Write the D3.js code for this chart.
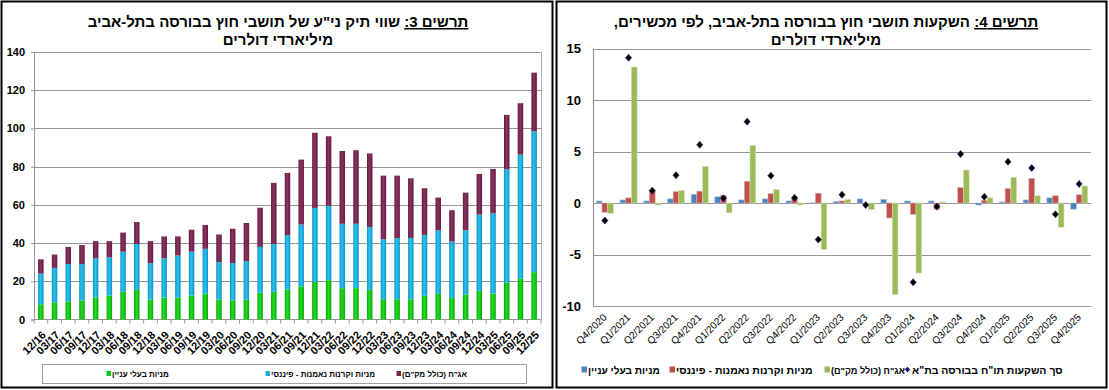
<!DOCTYPE html>
<html>
<head>
<meta charset="utf-8">
<script src="https://cdn.jsdelivr.net/npm/d3@7"></script>
<style>
    body { margin: 0; background: #fff; }
    svg { display: block; font-family: "Liberation Sans", Arial, "DejaVu Sans", sans-serif; }
    .rtl { direction: rtl; unicode-bidi: embed; }
</style>
</head>
<body>
<svg id="chart" width="1109" height="390"></svg>
<script>
// ---- figure 3: portfolio value (stacked), billions of dollars ----
const portfolioQuarters = ["12/16","03/17","06/17","09/17","12/17","03/18","06/18","09/18","12/18",
    "03/19","06/19","09/19","12/19","03/20","06/20","09/20","12/20","03/21","06/21","09/21","12/21",
    "03/22","06/22","09/22","12/22","03/23","06/23","09/23","12/23","03/24","06/24","09/24","12/24",
    "03/25","06/25","09/25","12/25"];
const portfolioInsider = [8, 9, 9.5, 10, 11.5, 12.5, 14.5, 15.5, 10.5, 11.5, 11.5, 12.5, 13.5, 10.5, 10, 10.5,
    14, 14.5, 15.7, 17.4, 19.7, 20.6, 16.4, 16.4, 15.5, 10.6, 10.6, 10.6, 12.4, 13.4, 11.3, 13.1, 15, 13.6,
    19.2, 21.5, 24.8];
const portfolioFinancial = [16, 18, 19.5, 19, 20.5, 20, 21, 24, 19, 20.5, 22, 23, 23.5, 19.5, 19.5, 20, 24,
    25, 28.4, 32.3, 38.7, 38.9, 33.7, 33.7, 32.8, 31.4, 32, 32.1, 31.9, 33.3, 29.5, 33.6, 39.9, 42, 59.5,
    64.8, 73.7];
const portfolioBonds = [7.5, 7, 9, 10, 9, 8.5, 10, 11.5, 11.5, 11.5, 10, 11.5, 12.5, 14.5, 18, 20, 20.5, 32,
    32.6, 34, 39.3, 36.4, 38.1, 38.5, 38.6, 33.3, 32.7, 31.2, 24.4, 17.1, 16.4, 19.7, 21.3, 23.2, 28.4,
    26.9, 30.7];
const portfolioTicks = [0, 20, 40, 60, 80, 100, 120, 140];
const portfolioLegend = ["מניות בעלי עניין", "מניות וקרנות נאמנות - פיננסי", "אג\"ח (כולל מק\"ם)"];

// ---- figure 4: investments by instrument, billions of dollars ----
const flowQuarters = ["Q4/2020","Q1/2021","Q2/2021","Q3/2021","Q4/2021","Q1/2022","Q2/2022","Q3/2022",
    "Q4/2022","Q1/2023","Q2/2023","Q3/2023","Q4/2023","Q1/2024","Q2/2024","Q3/2024","Q4/2024","Q1/2025",
    "Q2/2025","Q3/2025","Q4/2025"];
const flowInsider = [0.2, 0.3, 0.2, 0.4, 0.85, 0.6, 0.3, 0.4, 0.2, 0.02, 0.15, 0.4, 0.35, 0.2, 0.2, 0, -0.2,
    0.1, 0.3, 0.5, -0.6];
const flowFinancial = [-0.9, 0.5, 1.2, 1.1, 1.15, 0.75, 2.1, 0.9, 0.5, 0.95, 0.2, 0, -1.45, -1.1, -0.6, 1.5,
    0.25, 1.4, 2.4, 0.7, 0.8];
const flowBonds = [-1.0, 13.2, -0.2, 1.2, 3.55, -0.95, 5.6, 1.3, -0.2, -4.5, 0.35, -0.65, -8.9, -6.8, 0.1,
    3.2, 0.5, 2.5, 0.7, -2.35, 1.65];
const flowTotal = [-1.7, 14.1, 1.2, 2.7, 5.65, 0.45, 7.9, 2.65, 0.5, -3.55, 0.8, -0.2, -10.1, -7.7, -0.35,
    4.75, 0.6, 4.0, 3.4, -1.1, 1.85];
const flowTicks = [-10, -5, 0, 5, 10, 15];
const flowLegend = ["מניות בעלי עניין", "מניות וקרנות נאמנות - פיננסי", "אג\"ח (כולל מק\"ם)",
    "סך השקעות תו\"ח בבורסה בת\"א"];

const svg = d3.select('#chart');
const defs = svg.append('defs');
const gridColor = '#969696';

function addGradient(id, edge, mid) {
    const g = defs.append('linearGradient').attr('id', id)
        .attr('x1', 0).attr('x2', 1).attr('y1', 0).attr('y2', 0);
    g.append('stop').attr('offset', '0%').attr('stop-color', edge);
    g.append('stop').attr('offset', '45%').attr('stop-color', mid);
    g.append('stop').attr('offset', '100%').attr('stop-color', edge);
}
addGradient('gGreen', '#07a807', '#22dd22');
addGradient('gBlue', '#0c94c4', '#2cc2f0');
addGradient('gMaroon', '#5f1a3e', '#8c3360');

// panel frames
svg.append('rect').attr('x', 1.5).attr('y', 1.5).attr('width', 551).attr('height', 386)
    .attr('fill', 'none').attr('stroke', '#000').attr('stroke-width', 2);
svg.append('rect').attr('x', 556.5).attr('y', 1.5).attr('width', 550).attr('height', 386)
    .attr('fill', 'none').attr('stroke', '#000').attr('stroke-width', 2);

function drawTitle(cx, num, rest) {
    const t = svg.append('text').attr('class', 'rtl')
        .attr('x', cx).attr('y', 27).attr('text-anchor', 'middle')
        .attr('font-size', 15).attr('font-weight', 'bold').attr('fill', '#000');
    t.append('tspan').style('text-decoration', 'underline').text(`תרשים ${num}:`);
    t.append('tspan').text(' ' + rest);
    svg.append('text').attr('class', 'rtl')
        .attr('x', cx).attr('y', 45).attr('text-anchor', 'middle')
        .attr('font-size', 15).attr('font-weight', 'bold')
        .text('מיליארדי דולרים');
}

// shrink a legend label's font until it fits the room it has in the original
function fitText(sel, maxWidth, size) {
    const w = sel.node().getComputedTextLength();
    if (w > maxWidth) sel.attr('font-size', (size * maxWidth / w).toFixed(2));
}

// ================= left chart =================
function drawPortfolio() {
    const left = 34, right = 541, top = 52, bottom = 319.5;
    const x = d3.scaleBand().domain(portfolioQuarters).range([left, right])
        .paddingInner(0.6).paddingOuter(0.3);
    const y = d3.scaleLinear().domain([0, 140]).range([bottom, top]);
    const g = svg.append('g');

    drawTitle(278, 3, 'שווי תיק ני"ע של תושבי חוץ בבורסה בתל-אביב');

    // grid
    g.selectAll('line.grid').data(portfolioTicks.filter(d => d > 0)).join('line')
        .attr('x1', left).attr('x2', right)
        .attr('y1', d => Math.round(y(d)) + 0.5).attr('y2', d => Math.round(y(d)) + 0.5)
        .attr('stroke', gridColor).attr('stroke-width', 1.2);
    g.append('line').attr('x1', right + 0.5).attr('x2', right + 0.5).attr('y1', top).attr('y2', bottom)
        .attr('stroke', '#b0b0b0');

    // y axis
    const yAxis = g.append('g').attr('transform', `translate(${left},0)`)
        .call(d3.axisLeft(y).tickValues(portfolioTicks).tickSize(3).tickPadding(6));
    yAxis.select('.domain').attr('stroke', gridColor);
    yAxis.selectAll('line').attr('stroke', gridColor);
    yAxis.selectAll('text').attr('font-size', 11).attr('font-weight', 'bold')
        .attr('font-family', '"Liberation Sans", Arial, sans-serif').attr('fill', '#000');

    // x axis
    g.append('line').attr('x1', left).attr('x2', right).attr('y1', bottom).attr('y2', bottom)
        .attr('stroke', gridColor).attr('stroke-width', 1.2);
    const step = x.step();
    g.selectAll('line.xt').data(d3.range(portfolioQuarters.length + 1)).join('line')
        .attr('x1', i => left + i * step).attr('x2', i => left + i * step)
        .attr('y1', bottom).attr('y2', bottom + 4).attr('stroke', gridColor);
    g.selectAll('text.xl').data(portfolioQuarters).join('text')
        .attr('transform', d => `translate(${x(d) + x.bandwidth() / 2 + 3},333) rotate(-45)`)
        .attr('text-anchor', 'end').attr('dy', '0.35em')
        .attr('font-size', 11).attr('font-weight', 'bold').text(d => d);

    // stacked bars
    const rows = portfolioQuarters.map((q, i) => ({
        q, insider: portfolioInsider[i], financial: portfolioFinancial[i], bonds: portfolioBonds[i]
    }));
    const keys = ['insider', 'financial', 'bonds'];
    const fills = { insider: 'url(#gGreen)', financial: 'url(#gBlue)', bonds: 'url(#gMaroon)' };
    const series = d3.stack().keys(keys)(rows);
    g.selectAll('g.layer').data(series).join('g')
        .attr('fill', s => fills[s.key])
        .selectAll('rect').data(s => s).join('rect')
        .attr('x', d => x(d.data.q)).attr('width', x.bandwidth())
        .attr('y', d => y(d[1])).attr('height', d => y(d[0]) - y(d[1]));

    // legend
    g.append('rect').attr('x', 42.5).attr('y', 364.5).attr('width', 484).attr('height', 19)
        .attr('fill', '#fff').attr('stroke', '#a0a0a0');
    const legendColors = ['#11c411', '#1aaee0', '#7a2550'];
    const legendX = [112, 271, 402];
    portfolioLegend.forEach((label, i) => {
        g.append('rect').attr('x', legendX[i] - 5.5).attr('y', 371).attr('width', 4.5).attr('height', 5)
            .attr('fill', legendColors[i]);
        g.append('text').attr('class', 'rtl').attr('x', legendX[i]).attr('y', 376.5)
            .attr('text-anchor', 'end').attr('font-size', 8).attr('font-weight', 'bold').text(label);
    });
}

// ================= right chart =================
function drawFlows() {
    const left = 593, right = 1091, top = 48.5, bottom = 306;
    const x0 = d3.scaleBand().domain(flowQuarters).range([left, right]);
    const keys = ['insider', 'financial', 'bonds'];
    const x1 = d3.scaleBand().domain(keys).range([0, x0.bandwidth()]).paddingOuter(0.58);
    const y = d3.scaleLinear().domain([-10, 15]).range([bottom, top]);
    const g = svg.append('g');

    drawTitle(826, 4, 'השקעות תושבי חוץ בבורסה בתל-אביב, לפי מכשירים,');

    g.selectAll('line.grid').data(flowTicks).join('line')
        .attr('x1', left).attr('x2', right)
        .attr('y1', d => Math.round(y(d)) + 0.5).attr('y2', d => Math.round(y(d)) + 0.5)
        .attr('stroke', gridColor).attr('stroke-width', 1.2);
    g.append('line').attr('x1', left + 0.5).attr('x2', left + 0.5).attr('y1', top).attr('y2', bottom)
        .attr('stroke', gridColor).attr('stroke-width', 1.2);

    g.selectAll('text.yl').data(flowTicks).join('text')
        .attr('x', 581).attr('y', d => y(d)).attr('dy', '0.36em').attr('text-anchor', 'end')
        .attr('font-size', 13).attr('font-weight', 'bold').text(d => d);

    g.selectAll('text.xl').data(flowQuarters).join('text')
        .attr('transform', d => `translate(${x0(d) + x0.bandwidth() / 2},315.5) rotate(-45)`)
        .attr('text-anchor', 'end').attr('dy', '0.35em')
        .attr('font-size', 10).text(d => d);

    const values = { insider: flowInsider, financial: flowFinancial, bonds: flowBonds };
    const colors = { insider: '#4f81bd', financial: '#c0504d', bonds: '#9bbb59' };
    const edges = { insider: '#a9c2e2', financial: '#e3a9a7', bonds: '#d3e2b6' };
    keys.forEach(k => {
        g.append('g').selectAll('rect').data(flowQuarters).join('rect')
            .attr('x', (q) => x0(q) + x1(k)).attr('width', x1.bandwidth())
            .attr('y', (q, i) => y(Math.max(0, values[k][i])))
            .attr('height', (q, i) => Math.abs(y(values[k][i]) - y(0)))
            .attr('fill', colors[k]).attr('stroke', edges[k]).attr('stroke-width', 0.6);
    });

    const diamond = d3.symbol(d3.symbolDiamond2, 24);
    g.append('g').selectAll('path')
        .data(flowQuarters.map((q, i) => ({ q, v: flowTotal[i] })).filter(d => d.v >= -10 && d.v <= 15))
        .join('path')
        .attr('transform', d => `translate(${x0(d.q) + x0.bandwidth() / 2},${y(d.v)}) scale(1,1.15)`)
        .attr('d', diamond).attr('fill', '#000').attr('stroke', '#3d2a78').attr('stroke-width', 0.7);

    // legend: left edge of each label and the width it takes in the original
    const legendX = [588, 676, 831, 912];
    const legendW = [72, 142, 74, 180];
    const legendColors = ['#4f81bd', '#c0504d', '#9bbb59'];
    flowLegend.forEach((label, i) => {
        if (i < 3) {
            g.append('rect').attr('x', legendX[i] - 6.5).attr('y', 366.5).attr('width', 5.5).attr('height', 6)
                .attr('fill', legendColors[i]);
        } else {
            g.append('path').attr('transform', `translate(${legendX[i] - 4.5},369.5)`)
                .attr('d', d3.symbol(d3.symbolDiamond2, 18)).attr('fill', '#1b1464');
        }
        const t = g.append('text').attr('class', 'rtl').attr('x', legendX[i]).attr('y', 373.5)
            .attr('text-anchor', 'end').attr('font-size', 10.5).attr('font-weight', 'bold').text(label);
        fitText(t, legendW[i], 10.5);
    });
}

drawPortfolio();
drawFlows();
</script>
</body>
</html>
